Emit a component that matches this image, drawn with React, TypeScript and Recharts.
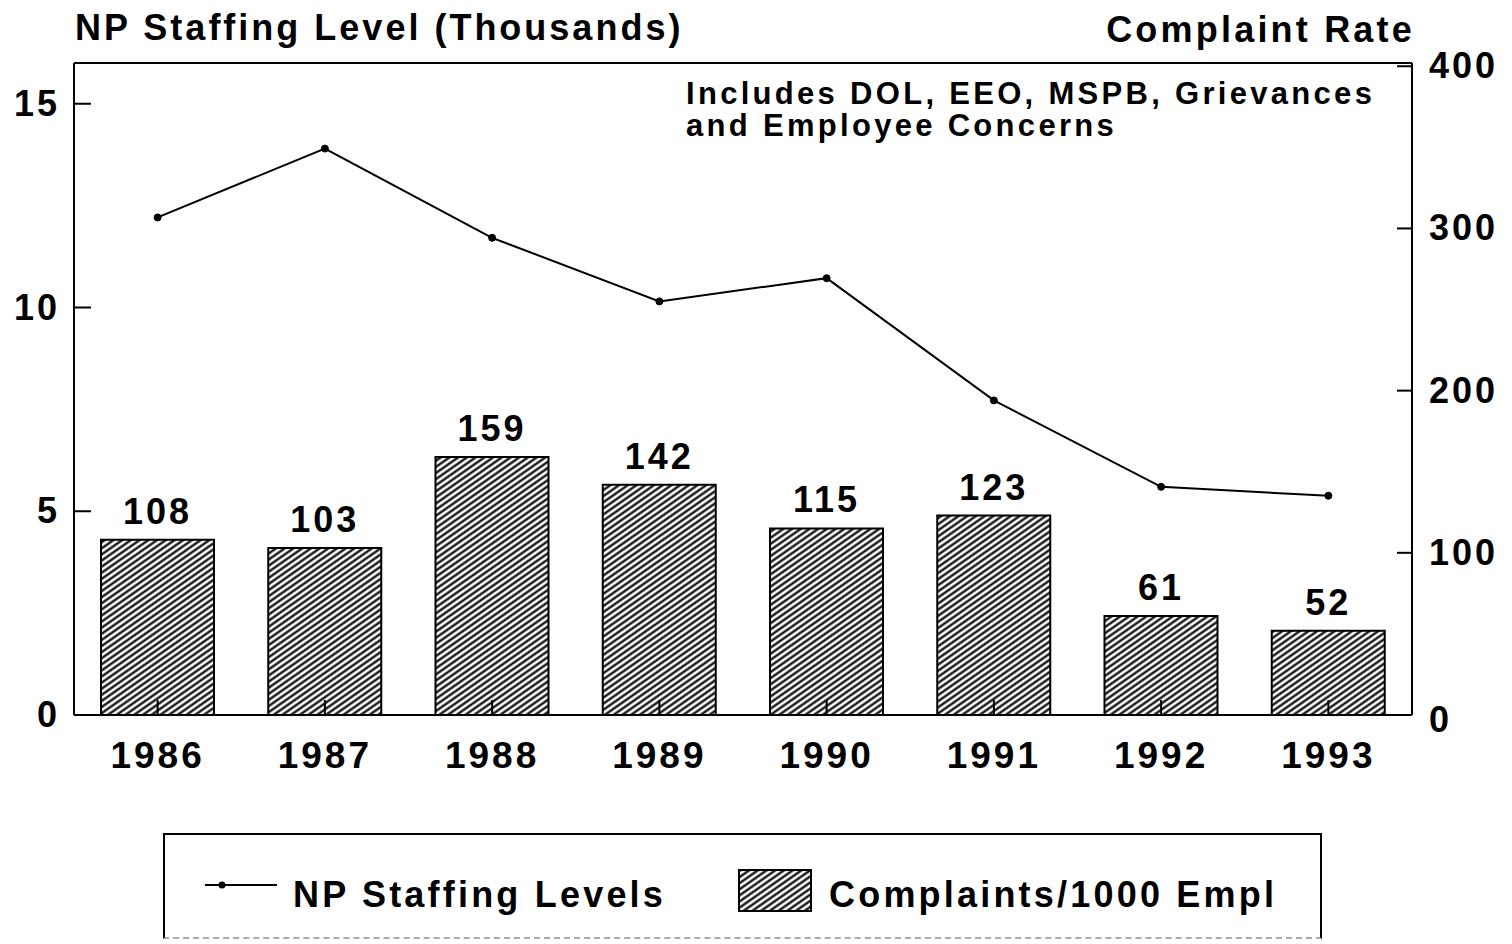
import React from "react"
import { Bar, ComposedChart, LabelList, Legend, Line, ReferenceLine, XAxis, YAxis } from "recharts"

const years = ["1986", "1987", "1988", "1989", "1990", "1991", "1992", "1993"]
const staffing = [12.21, 13.9, 11.71, 10.15, 10.72, 7.72, 5.6, 5.38]
const complaints = [108, 103, 159, 142, 115, 123, 61, 52]
const leftTicks = [0, 5, 10, 15]
const rightTicks = [0, 100, 200, 300, 400]

const data = years.map((year, i) => ({ year, staffing: staffing[i], complaints: complaints[i] }))

const FONT = '"Liberation Sans", Arial, Helvetica, sans-serif'

function LeftTick({ x, y, payload }: any) {
    return (
        <g>
            <line x1={x} x2={x + 17} y1={y} y2={y} stroke="#000" strokeWidth={2} />
            <text x={x - 14} y={y} dy={12} textAnchor="end" fontSize={36} fontWeight="bold" fontFamily={FONT} fill="#000" letterSpacing={3}>
                {payload.value}
            </text>
        </g>
    )
}

function RightTick({ x, y, payload }: any) {
    return (
        <g>
            <line x1={x - 15} x2={x} y1={y} y2={y} stroke="#000" strokeWidth={2} />
            <text x={x + 17} y={y} dy={payload.value === 0 ? 17 : 12} textAnchor="start" fontSize={36} fontWeight="bold" fontFamily={FONT} fill="#000" letterSpacing={3}>
                {payload.value}
            </text>
        </g>
    )
}

function YearTick({ x, y, payload }: any) {
    return (
        <g>
            <line x1={x} x2={x} y1={y} y2={y - 15} stroke="#000" strokeWidth={2} />
            <text x={x} y={y + 53} textAnchor="middle" fontSize={37} fontWeight="bold" fontFamily={FONT} fill="#000" letterSpacing={3}>
                {payload.value}
            </text>
        </g>
    )
}

function LegendBox({ payload }: any) {
    const line = (payload || []).find((p: any) => p.dataKey === "staffing")
    const bar = (payload || []).find((p: any) => p.dataKey === "complaints")
    const txt: React.CSSProperties = {
        position: "absolute",
        top: 38,
        fontFamily: FONT,
        fontWeight: "bold",
        fontSize: 36,
        letterSpacing: 3.2,
        lineHeight: "44px",
        color: "#000",
        whiteSpace: "nowrap",
    }
    return (
        <div
            style={{
                position: "relative",
                width: 1159,
                height: 106,
                boxSizing: "border-box",
                borderTop: "2px solid #000",
                borderLeft: "2px solid #000",
                borderRight: "2px solid #000",
                borderBottom: "2px dashed #aaa",
            }}
        >
            <svg width={74} height={20} style={{ position: "absolute", left: 40, top: 40 }}>
                <line x1={0} x2={72} y1={10} y2={10} stroke="#000" strokeWidth={2} />
                <circle cx={17} cy={10} r={3.5} fill="#000" />
            </svg>
            <span style={{ ...txt, left: 128 }}>{line ? line.value : ""}</span>
            <svg width={74} height={43} style={{ position: "absolute", left: 573, top: 34 }}>
                <rect x={1} y={1} width={72} height={41} fill="url(#hatch)" stroke="#000" strokeWidth={2} />
            </svg>
            <span style={{ ...txt, left: 664 }}>{bar ? bar.value : ""}</span>
        </div>
    )
}

export default function App() {
    return (
        <div style={{ position: "fixed", left: 0, top: 0, width: 1512, height: 944, background: "#fff", overflow: "hidden" }}>
            <ComposedChart width={1512} height={944} data={data} margin={{ top: 63, right: 0, bottom: 0, left: 0 }}>
                <defs>
                    <pattern id="hatch" patternUnits="userSpaceOnUse" width={6} height={5} patternTransform="rotate(-35)">
                        <rect width={6} height={5} fill="#fff" />
                        <line x1={0} x2={6} y1={2.5} y2={2.5} stroke="#000" strokeWidth={2.2} />
                    </pattern>
                </defs>
                <XAxis
                    dataKey="year"
                    height={229}
                    axisLine={{ stroke: "#000", strokeWidth: 2 }}
                    tickLine={false}
                    tickSize={0}
                    tickMargin={0}
                    tick={<YearTick />}
                    interval={0}
                />
                <YAxis
                    yAxisId="left"
                    orientation="left"
                    width={74}
                    domain={[0, 16]}
                    ticks={leftTicks}
                    axisLine={{ stroke: "#000", strokeWidth: 2 }}
                    tickLine={false}
                    tickSize={0}
                    tickMargin={0}
                    tick={<LeftTick />}
                />
                <YAxis
                    yAxisId="right"
                    orientation="right"
                    width={100}
                    domain={[0, 402]}
                    ticks={rightTicks}
                    axisLine={{ stroke: "#000", strokeWidth: 2 }}
                    tickLine={false}
                    tickSize={0}
                    tickMargin={0}
                    tick={<RightTick />}
                />
                <ReferenceLine yAxisId="left" y={16} stroke="#000" strokeWidth={2} />
                <Bar
                    yAxisId="right"
                    dataKey="complaints"
                    name="Complaints/1000 Empl"
                    barSize={113}
                    fill="url(#hatch)"
                    stroke="#000"
                    strokeWidth={2}
                    isAnimationActive={false}
                >
                    <LabelList dataKey="complaints" position="top" offset={16} fontSize={36} fontWeight="bold" fontFamily={FONT} fill="#000" letterSpacing={3} />
                </Bar>
                <Line
                    yAxisId="left"
                    type="linear"
                    dataKey="staffing"
                    name="NP Staffing Levels"
                    stroke="#000"
                    strokeWidth={2}
                    dot={{ r: 3.5, fill: "#000", stroke: "#000", strokeWidth: 1 }}
                    activeDot={false}
                    isAnimationActive={false}
                />
                <Legend
                    layout="horizontal"
                    verticalAlign="middle"
                    content={<LegendBox />}
                    wrapperStyle={{ left: 163, top: 833, width: 1159, height: 106 }}
                />
            </ComposedChart>
            <svg width={1512} height={944} style={{ position: "absolute", left: 0, top: 0, pointerEvents: "none" }}>
                <text x={75} y={40} fontSize={36} fontWeight="bold" fontFamily={FONT} letterSpacing={3} fill="#000">
                    NP Staffing Level (Thousands)
                </text>
                <text x={1415} y={42} textAnchor="end" fontSize={36} fontWeight="bold" fontFamily={FONT} letterSpacing={3.2} fill="#000">
                    Complaint Rate
                </text>
                <text x={686} y={104} fontSize={31} fontWeight="bold" fontFamily={FONT} letterSpacing={3.3} fill="#000">
                    Includes DOL, EEO, MSPB, Grievances
                </text>
                <text x={686} y={136} fontSize={31} fontWeight="bold" fontFamily={FONT} letterSpacing={3.3} fill="#000">
                    and Employee Concerns
                </text>
            </svg>
        </div>
    )
}
